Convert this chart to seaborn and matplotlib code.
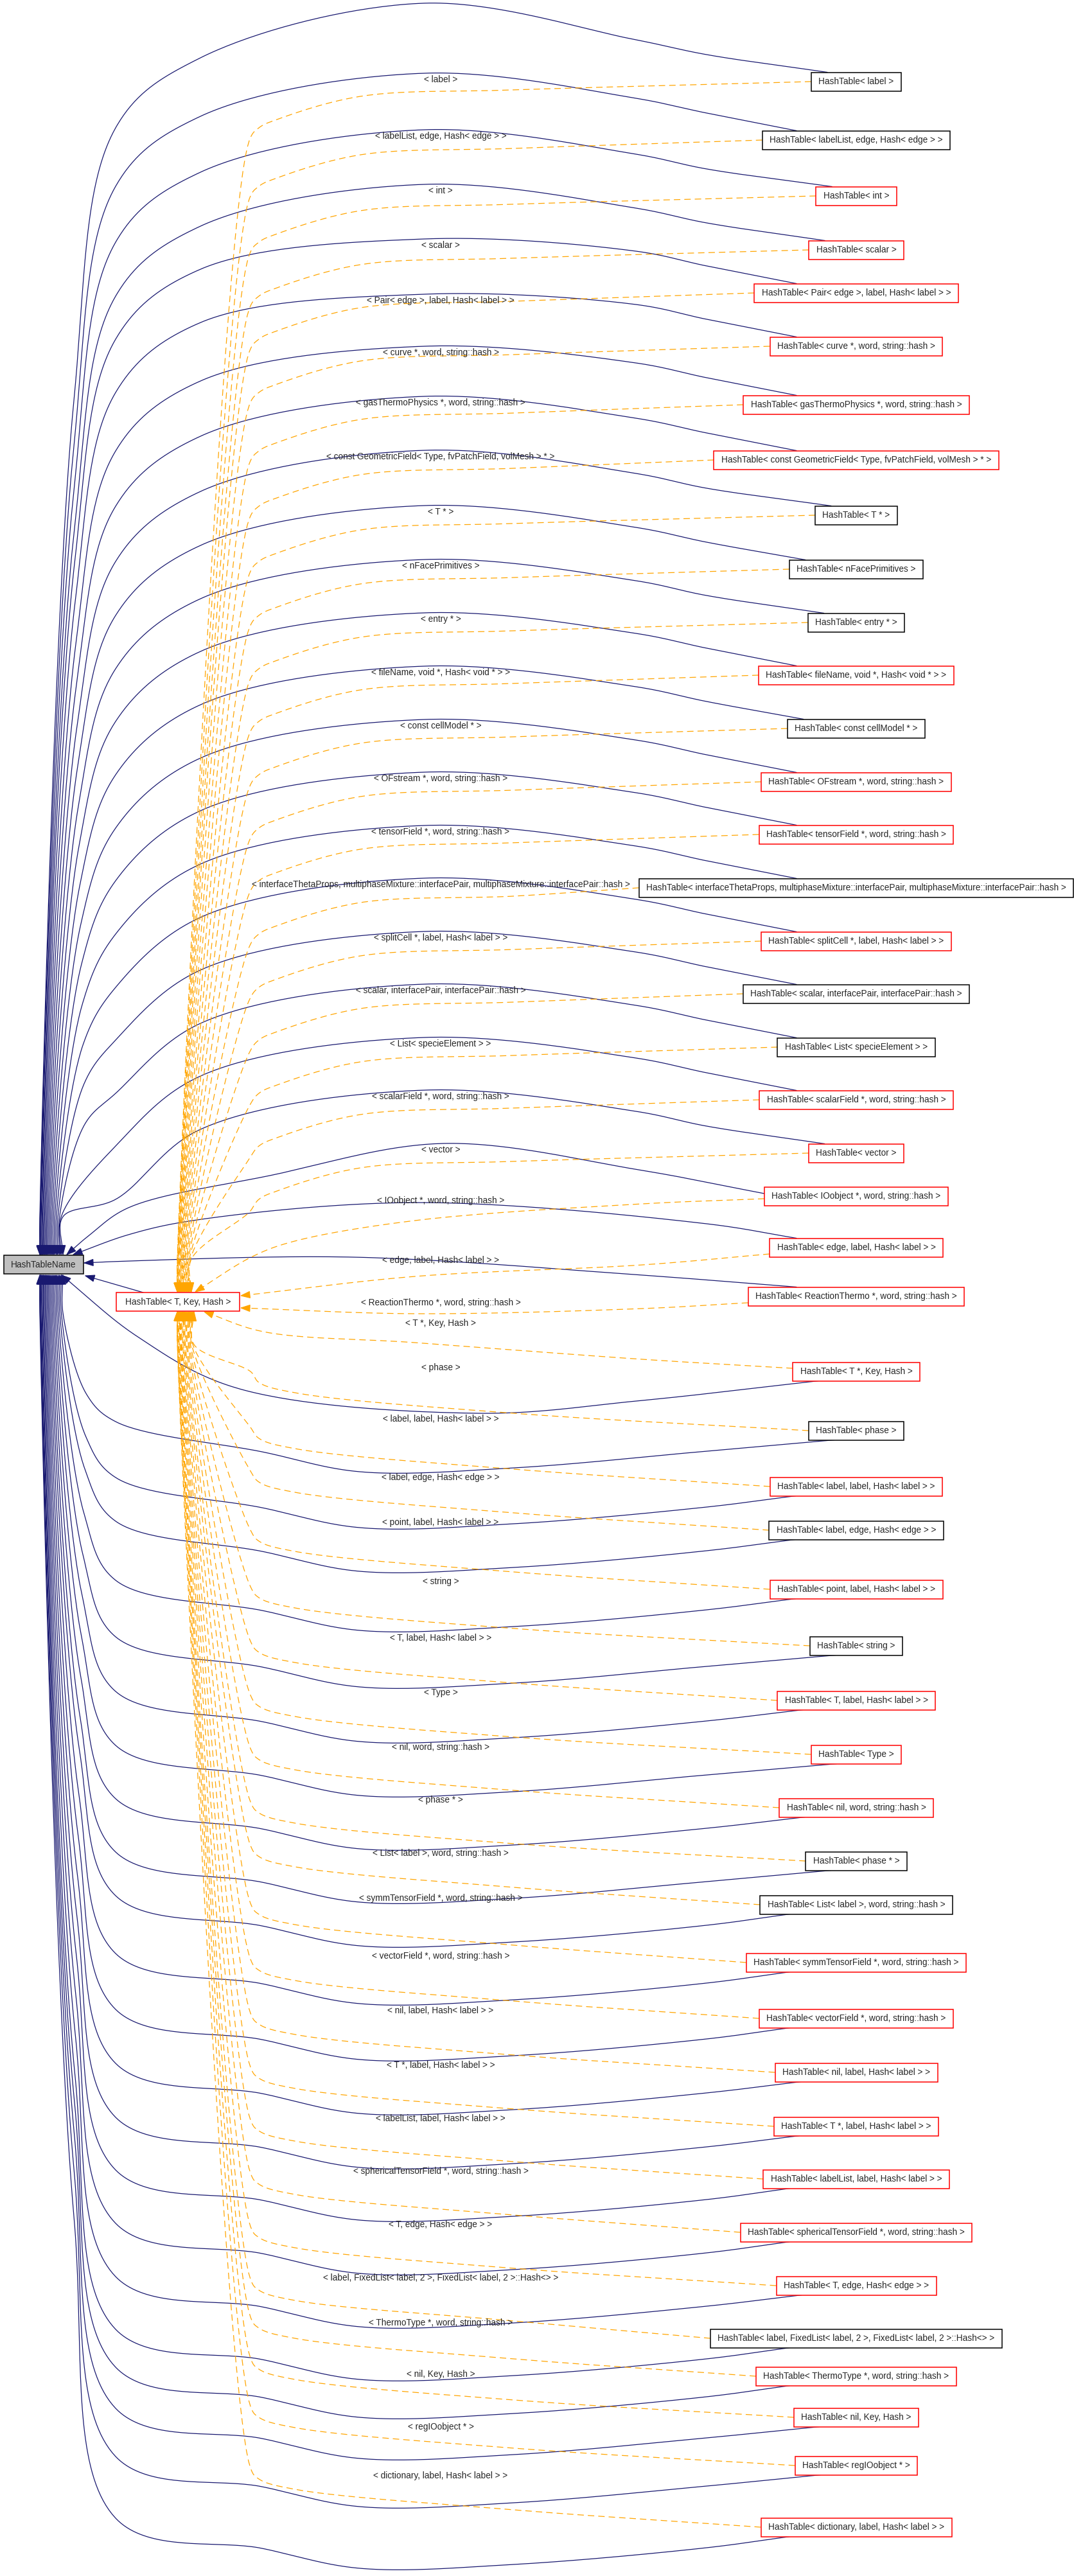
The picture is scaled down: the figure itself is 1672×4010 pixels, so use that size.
import numpy as np
import pandas as pd
import matplotlib
matplotlib.use("Agg")
import matplotlib.pyplot as plt
from matplotlib.patches import Rectangle, Polygon
import seaborn as sns

# template arguments of the HashTable instances, top to bottom
template_args = [
    "label",
    "labelList, edge, Hash< edge >",
    "int",
    "scalar",
    "Pair< edge >, label, Hash< label >",
    "curve *, word, string::hash",
    "gasThermoPhysics *, word, string::hash",
    "const GeometricField< Type, fvPatchField, volMesh > *",
    "T *",
    "nFacePrimitives",
    "entry *",
    "fileName, void *, Hash< void * >",
    "const cellModel *",
    "OFstream *, word, string::hash",
    "tensorField *, word, string::hash",
    "interfaceThetaProps, multiphaseMixture::interfacePair, multiphaseMixture::interfacePair::hash",
    "splitCell *, label, Hash< label >",
    "scalar, interfacePair, interfacePair::hash",
    "List< specieElement >",
    "scalarField *, word, string::hash",
    "vector",
    "IOobject *, word, string::hash",
    "edge, label, Hash< label >",
    "ReactionThermo *, word, string::hash",
    "T *, Key, Hash",
    "phase",
    "label, label, Hash< label >",
    "label, edge, Hash< edge >",
    "point, label, Hash< label >",
    "string",
    "T, label, Hash< label >",
    "Type",
    "nil, word, string::hash",
    "phase *",
    "List< label >, word, string::hash",
    "symmTensorField *, word, string::hash",
    "vectorField *, word, string::hash",
    "nil, label, Hash< label >",
    "T *, label, Hash< label >",
    "labelList, label, Hash< label >",
    "sphericalTensorField *, word, string::hash",
    "T, edge, Hash< edge >",
    "label, FixedList< label, 2 >, FixedList< label, 2 >::Hash<>",
    "ThermoType *, word, string::hash",
    "nil, Key, Hash",
    "regIOobject *",
    "dictionary, label, Hash< label >",
]

# nodes drawn with a black frame (documented), the rest are red
documented = [0, 1, 8, 9, 10, 12, 15, 17, 18, 25, 27, 29, 33, 34, 42]

# vertical position (rank) of each node and of its edge label
node_y = [127, 218, 305, 389, 456, 539, 630, 716, 802, 886, 969, 1051, 1134, 1217,
          1299, 1382, 1465, 1547, 1630, 1712, 1795, 1862, 1942, 2018, 2135, 2227,
          2314, 2382, 2474, 2562, 2647, 2731, 2814, 2897, 2965, 3055, 3142, 3226,
          3310, 3392, 3475, 3558, 3640, 3699, 3763, 3838, 3934]
label_y = [124, 212, 297, 382, 468, 549, 627, 711, 797, 881, 964, 1047, 1130, 1212,
           1295, 1377, 1460, 1542, 1625, 1707, 1790, 1869, 1962, 2028, 2060, 2129,
           2209, 2300, 2370, 2462, 2550, 2635, 2720, 2802, 2885, 2955, 3045, 3130,
           3215, 3298, 3380, 3463, 3546, 3616, 3696, 3778, 3854]

W, H = 1672, 4010
NAVY = "#191970"
ORANGE = "#FFA500"
FS = 9.8
NODE_CX = 1333
BOX_H = 29
PAD = 11.5

base_box = (6, 1954, 124, 29)        # HashTableName
tmpl_box = (181, 2012, 192, 29)      # HashTable< T, Key, Hash >

sns.set_theme(style="white")
plt.rcParams["font.family"] = ["Liberation Sans", "DejaVu Sans"]

fig = plt.figure(figsize=(W / 100, H / 100), dpi=100)
ax = fig.add_axes([0, 0, 1, 1])
ax.set_xlim(0, W)
ax.set_ylim(H, 0)
renderer = fig.canvas.get_renderer()


def text_width(s):
    t = ax.text(0, 0, s, fontsize=FS)
    w = t.get_window_extent(renderer).width
    t.remove()
    return w


def catmull_rom(pts, n=40):
    p = np.asarray(pts, float)
    p = np.vstack([2 * p[0] - p[1], p, 2 * p[-1] - p[-2]])
    out = []
    for i in range(1, len(p) - 2):
        p0, p1, p2, p3 = p[i - 1], p[i], p[i + 1], p[i + 2]
        t0 = 0.0
        t1 = t0 + max(np.linalg.norm(p1 - p0), 1e-6) ** 0.5
        t2 = t1 + max(np.linalg.norm(p2 - p1), 1e-6) ** 0.5
        t3 = t2 + max(np.linalg.norm(p3 - p2), 1e-6) ** 0.5
        t = np.linspace(t1, t2, n)[:, None]
        a1 = (t1 - t) / (t1 - t0) * p0 + (t - t0) / (t1 - t0) * p1
        a2 = (t2 - t) / (t2 - t1) * p1 + (t - t1) / (t2 - t1) * p2
        a3 = (t3 - t) / (t3 - t2) * p2 + (t - t2) / (t3 - t2) * p3
        b1 = (t2 - t) / (t2 - t0) * a1 + (t - t0) / (t2 - t0) * a2
        b2 = (t3 - t) / (t3 - t1) * a2 + (t - t1) / (t3 - t1) * a3
        c = (t2 - t) / (t2 - t1) * b1 + (t - t1) / (t2 - t1) * b2
        out.append(c if i == len(p) - 3 else c[:-1])
    return np.vstack(out)


texts = ["HashTable< %s >" % a for a in template_args]
box_w = [text_width(s) + 2 * PAD for s in texts]
box_left = [NODE_CX - w / 2 for w in box_w]

edges = []  # (kind, waypoints)
n_up = 21
n_low = len(template_args) - 25

for k, (y, bl) in enumerate(zip(node_y, box_left)):
    if k < n_up:
        # nodes above the hub: inheritance arc over the previous label
        peak = 5 if k == 0 else label_y[k - 1] - 10
        xe = 62 + 36 * (k / (n_up - 1)) ** 1.5
        ky = y + 72
        pts = [(max(bl + 25, 1240), y - 14.5), (1100, y - 42), (990, y - 65),
               (660, peak), (310, y - 36), (180, ky)]
        vy = ky + 0.25 * (1894 - ky)
        if vy - ky > 40:
            pts.append((xe + 0.45 * (180 - xe), vy))
        pts += [(xe, 1894), (xe, 1953)]
        edges.append(("inherit", pts))
        xe2 = 276 + 22 * (k / (n_up - 1)) ** 1.5
        edges.append(("instance", [(bl, y), (800, y + 13), (561, y + 23), (434, y + 58),
                                   (403, y + 72), (388, y + 92), (xe2, 1960), (xe2, 2011)]))
    elif k == 21:
        edges.append(("inherit", [(bl, y - 4), (1000, 1822), (690, label_y[k - 1] - 10),
                                  (420, 1830), (200, 1880), (140, 1922), (104, 1953)]))
        edges.append(("instance", [(bl, y + 4), (1000, 1874), (646, 1900), (455, 1933),
                                   (391, 1957), (304, 2011)]))
    elif k == 22:
        edges.append(("inherit", [(max(bl + 25, 1240), y - 14.5), (1100, 1905), (646, 1872),
                                  (300, 1900), (200, 1922), (114, 1953)]))
        edges.append(("instance", [(bl, y + 10), (1000, 1969), (646, 1987), (375, 2017)]))
    elif k == 23:
        edges.append(("inherit", [(max(bl + 25, 1240), y - 14.5), (1000, 1985), (551, 1957),
                                  (200, 1963), (131, 1966)]))
        edges.append(("instance", [(bl, y + 10), (1000, 2037), (646, 2045), (375, 2036)]))
    elif k == 24:
        edges.append(("inherit", [(bl + 40, y + 14.5), (1000, 2180), (742, 2200),
                                  (366, 2160), (213, 2080), (96, 1985)]))
        edges.append(("instance", [(bl, y - 5), (1000, 2116), (646, 2090), (410, 2073),
                                   (318, 2042)]))
    else:
        # nodes below the hub: mirrored shapes
        j = k - 25
        xe = 62 + 36 * ((n_low - 1 - j) / (n_low - 1)) ** 1.5
        ky = y - 14
        pts = [(max(bl + 40, 1230), y + 14.5), (1100, y + 32), (800, y + 58),
               (560, y + 64), (408, y + 33), (180, ky)]
        vy = ky - 0.25 * (ky - 2044)
        if ky - vy > 40:
            pts.append((xe + 0.45 * (180 - xe), vy))
        pts += [(xe, 2044), (xe, 1985)]
        edges.append(("inherit", pts))
        xe2 = 276 + 26 * ((n_low - 1 - j) / (n_low - 1)) ** 1.5
        edges.append(("instance", [(bl, y), (800, y - 27), (459, y - 59), (403, y - 75),
                                   (390, y - 92), (xe2, 2093), (xe2, 2042)]))

# the template itself derives from HashTableName
edges.append(("inherit", [(223, 2012), (178, 1999), (133, 1986)]))

rows = []
arrows = []
for i, (kind, pts) in enumerate(edges):
    c = catmull_rom(pts)
    tip = c[-1]
    d = np.cumsum(np.r_[0, np.hypot(*np.diff(c[::-1], axis=0).T)])
    bi = np.searchsorted(d, 14)
    base = c[::-1][min(bi, len(c) - 1)]
    v = tip - base
    v = v / np.hypot(*v)
    nrm = np.array([-v[1], v[0]])
    base = tip - 14 * v
    arrows.append((kind, [tip, base + 5 * nrm, base - 5 * nrm]))
    for x, y in c:
        rows.append({"edge": i, "kind": kind, "x": x, "y": y})

df = pd.DataFrame(rows)
sns.lineplot(data=df, x="x", y="y", units="edge", estimator=None, sort=False,
             hue="kind", style="kind",
             palette={"inherit": NAVY, "instance": ORANGE},
             dashes={"inherit": "", "instance": (8, 5)},
             linewidth=0.9, legend=False, ax=ax, zorder=1)

for kind, tri in arrows:
    col = NAVY if kind == "inherit" else ORANGE
    ax.add_patch(Polygon(tri, closed=True, fc=col, ec=col, lw=0.8, zorder=2))

# edge labels
for a, ly in zip(template_args, label_y):
    ax.text(686, ly, "< %s >" % a, fontsize=FS, ha="center", va="center", zorder=2)

# node boxes
for i, (s, y, bl, w) in enumerate(zip(texts, node_y, box_left, box_w)):
    ec = "black" if i in documented else "#FF0000"
    ax.add_patch(Rectangle((bl, y - BOX_H / 2), w, BOX_H, fc="white", ec=ec, lw=1.1, zorder=3))
    ax.text(NODE_CX, y, s, fontsize=FS, ha="center", va="center", zorder=4)

x0, y0, w0, h0 = base_box
ax.add_patch(Rectangle((x0, y0), w0, h0, fc="#BFBFBF", ec="black", lw=1.1, zorder=3))
ax.text(x0 + w0 / 2, y0 + h0 / 2, "HashTableName", fontsize=FS, ha="center", va="center", zorder=4)

x0, y0, w0, h0 = tmpl_box
ax.add_patch(Rectangle((x0, y0), w0, h0, fc="white", ec="#FF0000", lw=1.1, zorder=3))
ax.text(x0 + w0 / 2, y0 + h0 / 2, "HashTable< T, Key, Hash >", fontsize=FS,
        ha="center", va="center", zorder=4)

ax.set_xlim(0, W)
ax.set_ylim(H, 0)
ax.axis("off")
fig.savefig("out.png", dpi=100, facecolor="white")
